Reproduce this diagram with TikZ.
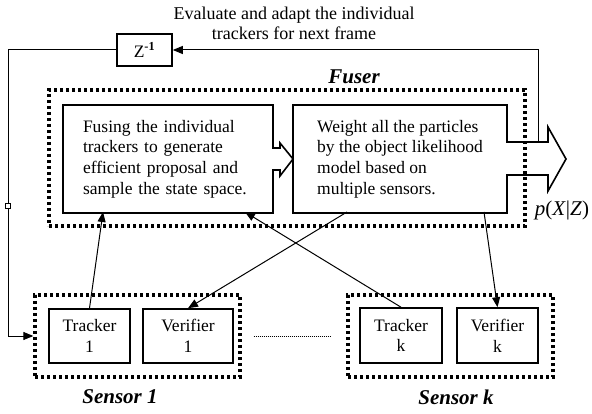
\documentclass[tikz,border=0pt]{standalone}
\usepackage{fontspec}
\setmainfont{Liberation Serif}
\usetikzlibrary{arrows.meta}

\begin{document}
\begin{tikzpicture}
  [x=1pt,y=-1pt,
   every node/.style={font=\fontsize{17.5}{20.7}\selectfont},
   block/.style={draw,line width=1.6pt,inner sep=0pt},
   dotframe/.style={draw,line width=3.3pt,dash pattern=on 3.1pt off 2.9pt,inner sep=0pt},
   heading/.style={font=\fontsize{21}{24}\selectfont\bfseries\itshape},
   link/.style={line width=1pt,-{Triangle[length=10pt,width=8pt]}},
   blockarrow/.style={draw,line width=1.6pt,fill=white,line join=miter}]
  \useasboundingbox (0,0) rectangle (592,414);

  % text and delay at the top
  \node [align=center,font=\fontsize{18}{20}\selectfont] (note) at (294,23) {Evaluate and adapt the individual\\trackers for next frame};
  \node [block,minimum width=55pt,minimum height=32pt] (zinv) at (144.5,50) {Z\textsuperscript{\textbf{-1}}};

  % fuser
  \node [block,minimum width=210pt,minimum height=108pt,text width=170pt,align=left] (fusing) at (168,159)
    {Fusing the individual\\trackers to generate\\efficient proposal and\\sample the state space.};
  \node [block,minimum width=214pt,minimum height=108pt,align=left] (weight) at (400,159)
    {Weight all the particles\\by the object likelihood\\model based on\\multiple sensors.};
  \draw [blockarrow] (272,148) -- (280,148) -- (280,143) -- (293,159) -- (280,176) -- (280,170) -- (272,170);
  \draw [blockarrow] (506,142) -- (548,142) -- (548,127) -- (566,159) -- (548,191) -- (548,175) -- (506,175);
  \node [dotframe,minimum width=476pt,minimum height=136pt] (fuser) at (287,158) {};
  \node [heading] (fusername) at (354,77) {Fuser};
  \node [font=\fontsize{21}{24}\selectfont] (post) at (562,210) {\textit{p}(\textit{X}|\textit{Z})};

  % sensors
  \node [dotframe,minimum width=205pt,minimum height=82pt] (sensor1) at (137.5,336) {};
  \node [dotframe,minimum width=205pt,minimum height=82pt] (sensork) at (450.5,336) {};
  \node [block,minimum width=81pt,minimum height=54pt,align=center] (tracker1) at (89.5,336) {Tracker\\1};
  \node [block,minimum width=90pt,minimum height=54pt,align=center] (verifier1) at (188,336) {Verifier\\1};
  \node [block,minimum width=82pt,minimum height=55pt,align=center] (trackerk) at (401,335.5) {Tracker\\k};
  \node [block,minimum width=81pt,minimum height=55pt,align=center] (verifierk) at (497.5,335.5) {Verifier\\k};
  \node [heading] (sensor1name) at (120,397) {Sensor 1};
  \node [heading] (sensorkname) at (456,397) {Sensor k};
  \draw [line width=0.6pt,dash pattern=on 1pt off 1pt,shorten <=12pt,shorten >=15pt] (sensor1) -- (sensork);

  \coordinate (f1) at (103,212);
  \coordinate (f2) at (245,212);
  \coordinate (w1) at (347,212);
  \coordinate (w2) at (484,212);
  \coordinate (fb) at (538,143);
  \coordinate (corner) at (8,336);

  \foreach \from/\to in {tracker1.north/f1,trackerk.north/f2,w1/verifier1.north,w2/verifierk.north}
    \draw [link] (\from) -- (\to);

  % feedback loop
  \draw [link] (fb) |- (zinv.east);
  \draw [link] (zinv.west) -| (corner) -- (sensor1.west);
  \node [draw,fill=white,line width=0.5pt,minimum size=5pt,inner sep=0pt] (kink) at (8,206) {};

\end{tikzpicture}
\end{document}
